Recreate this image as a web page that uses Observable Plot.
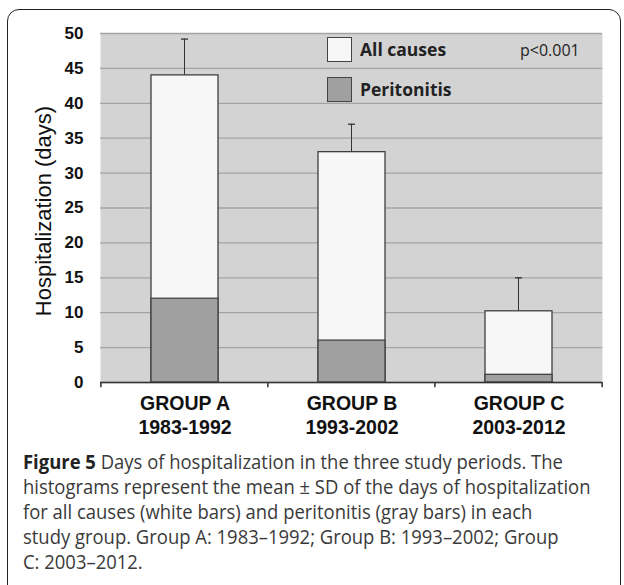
<!DOCTYPE html>
<html>
<head>
<meta charset="utf-8">
<script src="https://cdn.jsdelivr.net/npm/d3@7"></script>
<script src="https://cdn.jsdelivr.net/npm/@observablehq/plot@0.6"></script>
<style>
  html, body { margin: 0; padding: 0; background: #fff; width: 624px; height: 585px; overflow: hidden; }
  #frame { position: absolute; left: 7px; top: 9px; width: 614px; height: 640px; border: 1.5px solid #222; border-radius: 12px; box-sizing: border-box; }
  #chart { position: absolute; left: 0; top: 0; }
  .legend { position: absolute; left: 0; top: 0; font-family: "Open Sans", sans-serif; color: #222; }
  .legend div { white-space: nowrap; }
  .sw { position: absolute; width: 25px; height: 25px; border: 1.3px solid #444; box-sizing: border-box; }
  #caption { position: absolute; left: 23px; top: 449px; font-family: "Open Sans", sans-serif; font-size: 20px; line-height: 25px; color: #3a3a3a; white-space: nowrap; transform: scaleX(0.922); transform-origin: left top; }
  #caption b { color: #222; }
</style>
</head>
<body>
<div id="frame"></div>
<div id="chart"></div>
<div class="legend">
  <div class="sw" style="left:327px; top:37px; background:#f7f7f7;"></div>
  <div style="position:absolute; left:360px; top:37px; font-size:17.5px; font-weight:bold; line-height:24px;">All causes</div>
  <div class="sw" style="left:327px; top:77px; background:#a0a0a0;"></div>
  <div style="position:absolute; left:360px; top:77px; font-size:17.5px; font-weight:bold; line-height:24px;">Peritonitis</div>
  <div style="position:absolute; left:520px; top:38px; font-size:16px; line-height:24px;">p&lt;0.001</div>
</div>
<div id="caption"><b>Figure 5</b> Days of hospitalization in the three study periods. The<br>histograms represent the mean ± SD of the days of hospitalization<br>for all causes (white bars) and peritonitis (gray bars) in each<br>study group. Group A: 1983–1992; Group B: 1993–2002; Group<br>C: 2003–2012.</div>
<script>
const groups = ["GROUP A\n1983-1992", "GROUP B\n1993-2002", "GROUP C\n2003-2012"];
const allCauses = [44, 33, 10.2];
const allCausesSD = [5.2, 4, 4.8];
const peritonitis = [12, 6, 1.1];
const yTicks = [0, 5, 10, 15, 20, 25, 30, 35, 40, 45, 50];

const data = groups.map((g, i) => ({
  group: g,
  total: allCauses[i],
  upper: allCauses[i] + allCausesSD[i],
  perit: peritonitis[i]
}));

const chart = Plot.plot({
  width: 624,
  height: 440,
  marginLeft: 100,
  marginRight: 22,
  marginTop: 33,
  marginBottom: 58,
  style: { background: "transparent", fontFamily: "'Liberation Sans', Arial, sans-serif" },
  x: { domain: groups, paddingInner: 0.6, paddingOuter: 0.3, label: null, axis: null },
  y: { domain: [0, 50], label: null, axis: null },
  marks: [
    Plot.frame({ fill: "#d3d3d3", stroke: null }),
    Plot.ruleY(yTicks, { stroke: "#a4a4a4", strokeWidth: 1.3 }),
    Plot.barY(data, { x: "group", y1: "total", y2: "upper", fill: "#333", insetLeft: 33, insetRight: 33 }),
    Plot.tickY(data, { x: "group", y: "upper", stroke: "#333", strokeWidth: 1.3, insetLeft: 30, insetRight: 30 }),
    Plot.barY(data, { x: "group", y1: 0, y2: "total", fill: "#f7f7f7", stroke: "#404040", strokeWidth: 1.3 }),
    Plot.barY(data, { x: "group", y1: 0, y2: "perit", fill: "#a0a0a0", stroke: "#404040", strokeWidth: 1.3 }),
    // category boundary ticks below the x axis
    Plot.barY(groups, { x: (d) => d, y1: 0, y2: -0.75, fill: "#333", insetLeft: -50.9, insetRight: 116.4 }),
    Plot.barY(groups.slice(-1), { x: (d) => d, y1: 0, y2: -0.75, fill: "#333", insetLeft: 116.4, insetRight: -50.9 }),
    Plot.axisY(yTicks, { tickSize: 0, tickPadding: 17, fontSize: 17, fontWeight: "bold", fill: "#111", label: null }),
    Plot.ruleX([0], { x: () => 0, frameAnchor: "left", stroke: "#333", strokeWidth: 1.5 }),
    Plot.ruleY([0], { stroke: "#333", strokeWidth: 1.5 }),
    Plot.axisX({ tickSize: 0, tickPadding: 10, fontSize: 19.5, fontWeight: "bold", fill: "#111", lineHeight: 1.25, label: null }),
    Plot.text(["Hospitalization (days)"], { frameAnchor: "left", textAnchor: "middle", dx: -57, dy: 3, rotate: -90, fontSize: 22, fill: "#111" })
  ]
});
document.getElementById("chart").appendChild(chart);
</script>
</body>
</html>
